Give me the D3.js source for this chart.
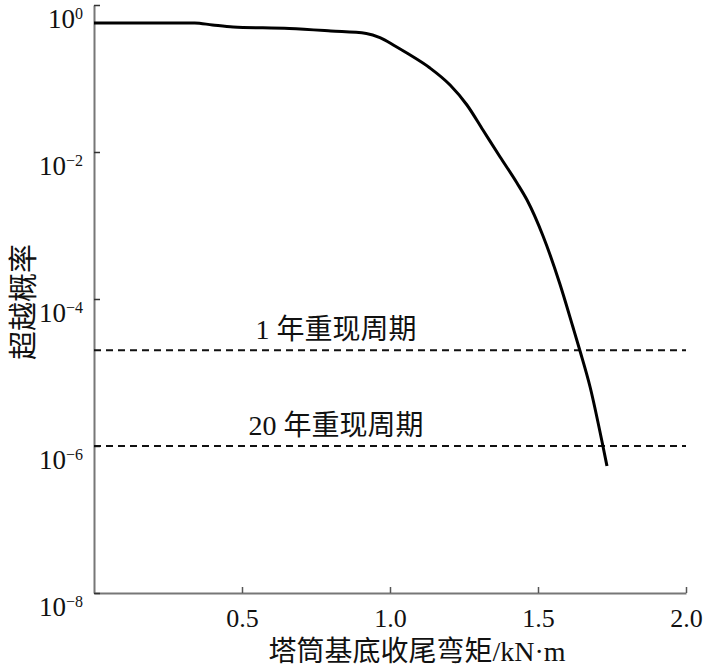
<!DOCTYPE html>
<html>
<head>
<meta charset="utf-8">
<script src="https://cdn.jsdelivr.net/npm/d3@7"></script>
<style>
  body { margin: 0; background: #fff; }
  svg { display: block; }
</style>
</head>
<body>
<svg id="chart" width="709" height="666"></svg>
<script>
// ---- data ----
const moment = [0, 0.34, 0.40, 0.47, 0.66, 0.80, 0.92, 0.966, 1.017, 1.057, 1.135, 1.203, 1.260, 1.314, 1.372, 1.429, 1.463, 1.517, 1.574, 1.618, 1.642, 1.676, 1.720, 1.733];
const exceedProb = [0.569, 0.569, 0.535, 0.502, 0.479, 0.443, 0.410, 0.361, 0.277, 0.222, 0.139, 0.0816, 0.0436, 0.0199, 0.00855, 0.00379, 0.00222, 0.000720, 0.000160, 0.0000416, 0.0000196, 0.00000635, 0.000000968, 0.000000535];
const refLevels = [2e-5, 1e-6];
const refLabels = ["1 年重现周期", "20 年重现周期"];
const xTicks = [0.5, 1.0, 1.5, 2.0];
const yTickExp = [0, -2, -4, -6, -8];
const xTitle = "塔筒基底收尾弯矩/kN·m";
const yTitle = "超越概率";

const serif = "'Liberation Serif','Times New Roman','Noto Sans CJK SC',serif";
const svg = d3.select("#chart");

const x = d3.scaleLinear().domain([0, 2]).range([94, 686]);
const y = d3.scaleLog().domain([1, 1e-8]).range([5, 593]);

// axes
const xAxis = svg.append("g")
  .attr("transform", `translate(0,${y(1e-8)})`)
  .call(d3.axisBottom(x).tickValues(xTicks).tickSizeInner(-6).tickSizeOuter(0).tickFormat(d3.format(".1f")));
xAxis.select(".domain").attr("stroke", "#777").attr("stroke-width", 2);
xAxis.selectAll(".tick line").attr("stroke", "#555").attr("stroke-width", 1.5);
xAxis.selectAll(".tick text")
  .attr("y", 34).attr("dy", 0)
  .attr("font-family", serif).attr("font-size", 26).attr("fill", "#111");

const yAxis = svg.append("g")
  .attr("transform", `translate(${x(0)},0)`)
  .call(d3.axisLeft(y).tickValues(yTickExp.map(e => Math.pow(10, e))).tickSizeInner(-6).tickSizeOuter(0).tickFormat(""));
yAxis.select(".domain").attr("stroke", "#777").attr("stroke-width", 2);
yAxis.selectAll(".tick line").attr("stroke", "#333").attr("stroke-width", 1.5);
yAxis.selectAll(".tick").each(function(d, i) {
  const g = d3.select(this);
  g.select("text").remove();
  const t = g.append("text")
    .attr("x", -11).attr("y", 22)
    .attr("text-anchor", "end")
    .attr("font-family", serif).attr("fill", "#111");
  t.append("tspan").attr("font-size", 27).text("10");
  t.append("tspan").attr("font-size", 16).attr("dy", -9)
    .text(yTickExp[i] === 0 ? "0" : "\u2212" + Math.abs(yTickExp[i]));
});

// reference dashed lines
svg.selectAll(".ref").data(refLevels).join("line")
  .attr("x1", x(0)).attr("x2", x(2))
  .attr("y1", d => y(d)).attr("y2", d => y(d))
  .attr("stroke", "#111").attr("stroke-width", 2)
  .attr("stroke-dasharray", "7,5");

svg.selectAll(".reflabel").data(refLevels).join("text")
  .attr("x", 336).attr("y", d => y(d) - 11)
  .attr("text-anchor", "middle")
  .attr("font-family", serif).attr("font-size", 28).attr("fill", "#111")
  .text((d, i) => refLabels[i]);

// curve
const pts = moment.map((m, i) => [m, exceedProb[i]]);
svg.append("path")
  .datum(pts)
  .attr("fill", "none").attr("stroke", "#000").attr("stroke-width", 3)
  .attr("d", d3.line().x(d => x(d[0])).y(d => y(d[1])).curve(d3.curveMonotoneX));

// titles
svg.append("text")
  .attr("x", 417).attr("y", 661)
  .attr("text-anchor", "middle")
  .attr("font-family", serif).attr("font-size", 28).attr("fill", "#111")
  .text(xTitle);

svg.append("text")
  .attr("transform", "translate(34,302) rotate(-90)")
  .attr("text-anchor", "middle")
  .attr("font-family", serif).attr("font-size", 29).attr("fill", "#111")
  .text(yTitle);
</script>
</body>
</html>
